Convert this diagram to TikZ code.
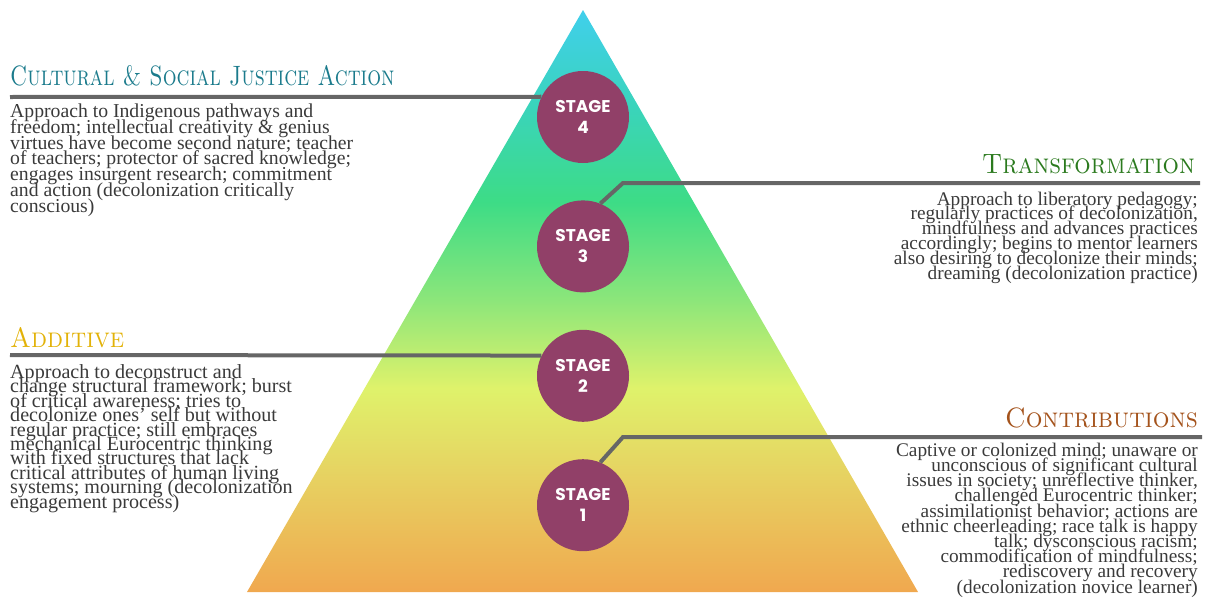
\documentclass[tikz,border=0pt]{standalone}
\usepackage{fontspec}
\setmainfont{Liberation Serif}
\newfontfamily\stagefont{Poppins}
\usetikzlibrary{positioning}

\definecolor{plum}{RGB}{145,64,104}
\definecolor{leadergray}{RGB}{102,102,102}
\definecolor{bodygray}{RGB}{58,58,58}
\definecolor{culturalteal}{RGB}{27,123,140}
\definecolor{transgreen}{RGB}{43,122,30}
\definecolor{additivegold}{RGB}{226,178,8}
\definecolor{contribbrown}{RGB}{164,83,28}

\pgfdeclareverticalshading{pyramid}{100bp}{%
  color(0bp)=(rgb,255:red,240;green,168;blue,79);
  color(25bp)=(rgb,255:red,240;green,168;blue,79);
  color(35.5bp)=(rgb,255:red,230;green,212;blue,98);
  color(42.5bp)=(rgb,255:red,223;green,242;blue,107);
  color(50bp)=(rgb,255:red,141;green,230;blue,122);
  color(58.5bp)=(rgb,255:red,61;green,220;blue,134);
  color(66.5bp)=(rgb,255:red,58;green,212;blue,186);
  color(75bp)=(rgb,255:red,64;green,207;blue,236);
  color(100bp)=(rgb,255:red,64;green,207;blue,236)}

\lineskiplimit=-50pt

\begin{document}
\begin{tikzpicture}[
    x=1pt, y=-1pt,
    node distance=37pt,
    stage_circle/.style={circle, fill=plum, minimum size=92pt, inner sep=0pt, text=white, align=center, font=\stagefont\bfseries\fontsize{17}{21}\selectfont},
    title_text/.style={inner sep=0pt, font=\fontfamily{lmr}\fontsize{28}{30}\selectfont\scshape},
    body_text/.style 2 args={inner sep=0pt, text=bodygray, font=\fontsize{#1}{#2}\selectfont},
    leader/.style={draw=leadergray, line width=4pt}
]
    \useasboundingbox (0,0) rectangle (1207,597);

    % Pyramid
    \shade[shading=pyramid] (583,10) -- (918,592) -- (247,592) -- cycle;

    % Stages
    \node[stage_circle] (stage_four) at (583,117) {STAGE\\4};
    \node[stage_circle, below=of stage_four] (stage_three) {STAGE\\3};
    \node[stage_circle, below=of stage_three] (stage_two) {STAGE\\2};
    \node[stage_circle, below=of stage_two] (stage_one) {STAGE\\1};

    % Leader lines
    \coordinate (end_four) at (10,97);
    \coordinate (bend_three) at (623,183);
    \coordinate (end_three) at (1200,183);
    \coordinate (end_two) at (10,355);
    \coordinate (bend_one) at (623,437);
    \coordinate (end_one) at (1202,437);
    \draw[leader] (stage_four.154) -- (end_four);
    \draw[leader] (stage_three.68) -- (bend_three) -- (end_three);
    \draw[leader] (stage_two.154) -- (end_two);
    \draw[leader] (stage_one.68) -- (bend_one) -- (end_one);

    % Stage 4: Cultural & Social Justice Action (nodes sit on their last baseline)
    \node[title_text, text=culturalteal, anchor=base west] (title_four) at (10,85) {\scalebox{0.78}[1]{Cultural \& Social Justice Action}};
    \node[body_text={19.7}{15.7}, align=left, anchor=base west] (text_four) at (10,212) {Approach to Indigenous pathways and\\freedom; intellectual creativity \& genius\\virtues have become second nature; teacher\\of teachers; protector of sacred knowledge;\\engages insurgent research; commitment\\and action (decolonization critically\\conscious)};

    % Stage 3: Transformation
    \node[title_text, text=transgreen, anchor=base east] (title_three) at (1195,173) {\scalebox{0.92}[1]{Transformation}};
    \node[body_text={19.3}{14.8}, align=right, anchor=base east] (text_three) at (1198,279) {Approach to liberatory pedagogy;\\regularly practices of decolonization,\\mindfulness and advances practices\\accordingly; begins to mentor learners\\also desiring to decolonize their minds;\\dreaming (decolonization practice)};

    % Stage 2: Additive
    \node[title_text, text=additivegold, anchor=base west] (title_two) at (10,347) {\scalebox{0.92}[1]{Additive}};
    \node[body_text={20.1}{14.4}, align=left, anchor=base west] (text_two) at (10,508) {Approach to deconstruct and\\change structural framework; burst\\of critical awareness; tries to\\decolonize ones’ self but without\\regular practice; still embraces\\mechanical Eurocentric thinking\\with fixed structures that lack\\critical attributes of human living\\systems; mourning (decolonization\\engagement process)};

    % Stage 1: Contributions
    \node[title_text, text=contribbrown, anchor=base east] (title_one) at (1198,427) {\scalebox{0.94}[1]{Contributions}};
    \node[body_text={19.3}{15.2}, align=right, anchor=base east] (text_one) at (1198,593) {Captive or colonized mind; unaware or\\unconscious of significant cultural\\issues in society; unreflective thinker,\\challenged Eurocentric thinker;\\assimilationist behavior; actions are\\ethnic cheerleading; race talk is happy\\talk; dysconscious racism;\\commodification of mindfulness;\\rediscovery and recovery\\(decolonization novice learner)};
\end{tikzpicture}
\end{document}
